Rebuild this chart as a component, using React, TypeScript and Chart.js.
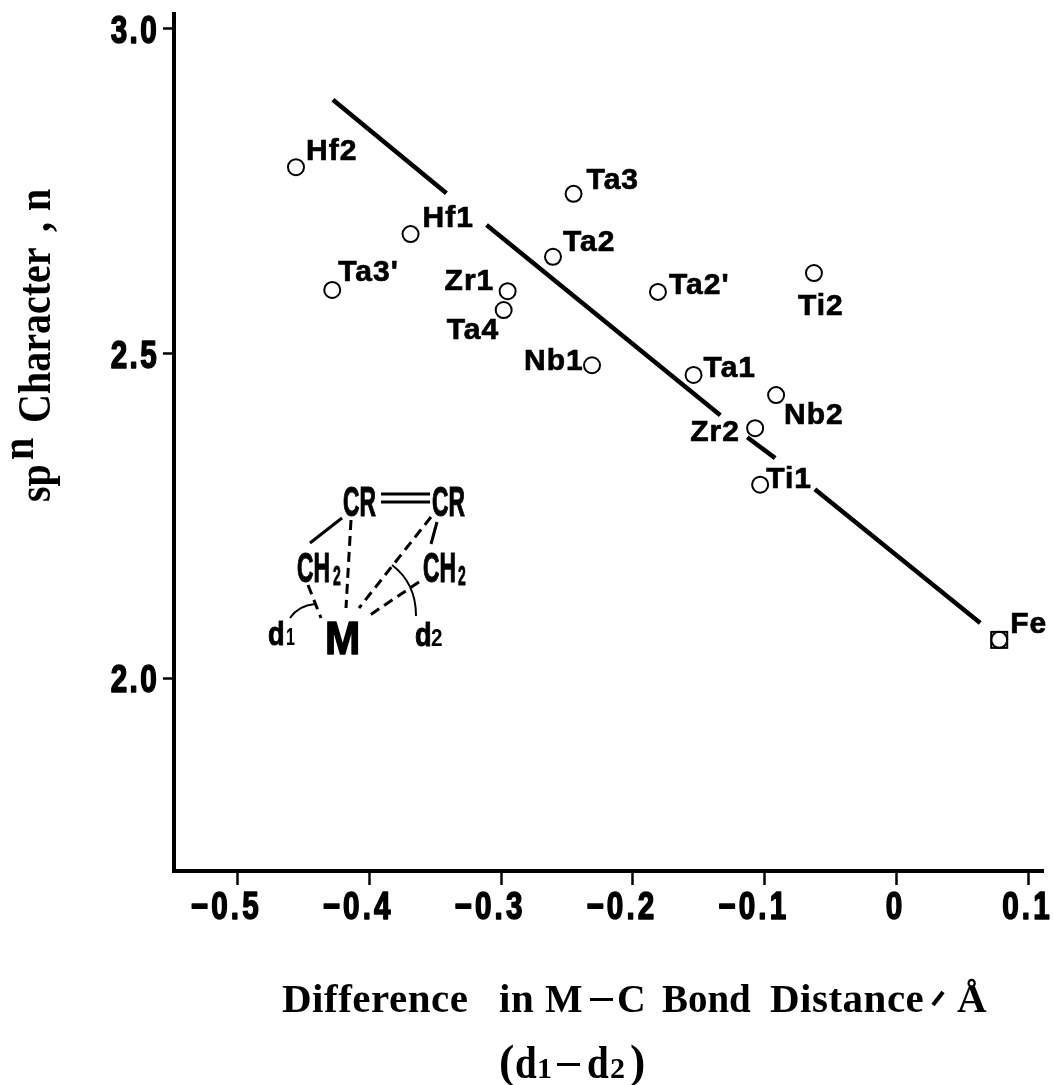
import React, { useEffect, useRef } from "react";
import { Chart, registerables } from "chart.js";

Chart.register(...registerables);

const pointNames = ["Hf2", "Ta3'", "Hf1", "Zr1", "Ta4", "Ta3", "Ta2", "Nb1", "Ta2'", "Ta1", "Zr2", "Nb2", "Ti2", "Ti1", "Fe"];
const pointX = [-0.4555, -0.428, -0.3686, -0.295, -0.298, -0.245, -0.2606, -0.231, -0.181, -0.154, -0.1073, -0.0914, -0.0627, -0.1035, 0.0778];
const pointY = [2.787, 2.598, 2.684, 2.596, 2.567, 2.746, 2.649, 2.482, 2.595, 2.467, 2.385, 2.436, 2.624, 2.298, 2.059];
const fitX = [-0.4275, -0.3414, null, -0.311, -0.1337, null, -0.1133, -0.0921, null, -0.062, 0.0634];
const fitY = [2.891, 2.747, null, 2.698, 2.405, null, 2.371, 2.339, null, 2.291, 2.085];
const xTicks = [-0.5, -0.4, -0.3, -0.2, -0.1, 0, 0.1];
const xTickLabels = ["−0.5", "−0.4", "−0.3", "−0.2", "−0.1", "0", "0.1"];
const yTicks = [2.0, 2.5, 3.0];
const yTickLabels = ["2.0", "2.5", "3.0"];

const labelOffsets: [number, number][] = [
  [10, -15], [6, -17], [12, -15], [-63, -9], [-57, 21], [13, -13], [10, -14], [-68, -4],
  [11, -6], [10, -6], [-65, 5], [8, 21], [-16, 34], [6, -5], [11, -15],
];

const SANS = "'Liberation Sans', sans-serif";
const SERIF = "'Liberation Serif', serif";

const annotate = {
  id: "annotate",
  afterDraw(chart: any) {
    const ctx = chart.ctx;
    const sx = chart.scales.x;
    const sy = chart.scales.y;
    ctx.save();
    ctx.fillStyle = "#000";
    ctx.strokeStyle = "#000";

    // draws text, squeezed or stretched about its anchor, optionally thickened
    const text = (s: string, x: number, y: number, font: string, kx = 1, ky = 1, align = "left", spacing = 0, heavy = 0) => {
      ctx.save();
      ctx.font = font;
      ctx.textAlign = align;
      ctx.textBaseline = "alphabetic";
      ctx.letterSpacing = `${spacing}px`;
      ctx.translate(x, y);
      ctx.scale(kx, ky);
      ctx.fillText(s, 0, 0);
      if (heavy > 0) {
        ctx.lineWidth = heavy;
        ctx.lineJoin = "round";
        ctx.strokeText(s, 0, 0);
      }
      ctx.restore();
    };

    // tick labels
    const tickFont = `bold 38px ${SANS}`;
    xTicks.forEach((v, i) => {
      text(xTickLabels[i], sx.getPixelForValue(v) - (v >= 0 ? 1 : 11), 919, tickFont, 0.78, 1, "center", 4, 1.6);
    });
    yTicks.forEach((v, i) => {
      text(yTickLabels[i], 159, sy.getPixelForValue(v) + 14, tickFont, 0.78, 1, "right", 3, 1.6);
    });

    // point labels
    ctx.save();
    ctx.font = `bold 30px ${SANS}`;
    ctx.textBaseline = "middle";
    ctx.letterSpacing = "1px";
    ctx.lineWidth = 0.7;
    pointNames.forEach((name, i) => {
      const [dx, dy] = labelOffsets[i];
      const px = sx.getPixelForValue(pointX[i]) + dx;
      const py = sy.getPixelForValue(pointY[i]) + dy;
      ctx.fillText(name, px, py);
      ctx.strokeText(name, px, py);
    });
    ctx.restore();

    // Fe square marker
    const fx = sx.getPixelForValue(pointX[14]);
    const fy = sy.getPixelForValue(pointY[14]);
    ctx.lineWidth = 2;
    ctx.strokeRect(fx - 8, fy - 8, 16, 16);

    // x axis title
    const xFont = `bold 41px ${SERIF}`;
    const xb = 1012;
    text("Difference", 282, xb, xFont, 1, 1, "left", 0.5);
    text("in", 499, xb, xFont, 1, 1, "left", 0.5);
    text("M", 545, xb, xFont, 0.97);
    ctx.fillRect(590, 998, 23, 3);
    text("C", 617, xb, xFont, 0.97);
    text("Bond", 662, xb, xFont, 0.95);
    text("Distance", 770, xb, xFont, 1, 1, "left", 0.5);
    ctx.lineWidth = 4;
    ctx.beginPath();
    ctx.moveTo(933, 1005);
    ctx.lineTo(943, 992);
    ctx.stroke();
    text("Å", 957, xb, xFont);
    const dFont = `bold 46px ${SERIF}`;
    const subFont = `bold 30px ${SERIF}`;
    const db = 1078;
    text("(", 499, db - 1, dFont);
    text("d", 515, db, dFont, 0.85);
    text("1", 537, db, subFont);
    ctx.fillRect(557, 1063, 23, 3);
    text("d", 587, db, dFont, 0.85);
    text("2", 610, db, subFont);
    text(")", 630, db - 1, dFont);

    // y axis title (rotated, reading upwards)
    const yFont = `bold 40px ${SERIF}`;
    const yRun = (s: string, along: number, baseX: number) => {
      ctx.save();
      ctx.font = yFont;
      ctx.textBaseline = "alphabetic";
      ctx.translate(baseX, along);
      ctx.rotate(-Math.PI / 2);
      ctx.scale(1, 1.14);
      ctx.fillText(s, 0, 0);
      ctx.restore();
    };
    yRun("sp", 502, 50);
    yRun("n", 460, 33);
    yRun("Character", 423, 50);
    yRun(",", 232, 50);
    yRun("n", 211, 50);

    // inset structure
    const cFont = `bold 43px ${SANS}`;
    text("CR", 343, 516, cFont, 0.53, 1, "left", 0, 1.2);
    text("CR", 432, 516, cFont, 0.53, 1, "left", 0, 1.2);
    text("CH", 297, 582, cFont, 0.53, 1, "left", 0, 1.2);
    text("CH", 423, 582, cFont, 0.53, 1, "left", 0, 1.2);
    const sFont = `bold 28px ${SANS}`;
    text("2", 333, 585, sFont, 0.5, 1, "left", 0, 0.8);
    text("2", 458, 585, sFont, 0.5, 1, "left", 0, 0.8);
    text("M", 325, 654, `bold 47px ${SANS}`, 0.9, 1, "left", 0, 1.5);
    const dsFont = `bold 34px ${SANS}`;
    text("d", 268, 645, dsFont, 0.8, 1, "left", 0, 1);
    text("d", 415, 646, dsFont, 0.8, 1, "left", 0, 1);
    const nsFont = `bold 23px ${SANS}`;
    text("1", 286, 645, nsFont, 0.7);
    text("2", 431, 646, nsFont, 0.9);

    ctx.lineWidth = 3;
    const seg = (a: number, b: number, c: number, d: number) => {
      ctx.beginPath();
      ctx.moveTo(a, b);
      ctx.lineTo(c, d);
      ctx.stroke();
    };
    seg(381, 494, 430, 494);
    seg(381, 502, 430, 502);
    seg(310, 543, 342, 518);
    seg(437, 522, 431, 544);
    ctx.setLineDash([10, 6]);
    seg(308, 585, 321, 618);
    seg(351, 520, 346, 608);
    seg(431, 517, 359, 608);
    seg(419, 582, 367, 617);
    ctx.setLineDash([]);
    ctx.lineWidth = 2;
    ctx.beginPath();
    ctx.moveTo(290, 618);
    ctx.bezierCurveTo(296, 609, 304, 605, 315, 604);
    ctx.stroke();
    ctx.beginPath();
    ctx.moveTo(392, 565);
    ctx.bezierCurveTo(408, 577, 416, 595, 416, 616);
    ctx.stroke();
    ctx.restore();
  },
};

export default function App() {
  const ref = useRef<HTMLCanvasElement>(null);
  useEffect(() => {
    const chart = new Chart(ref.current!, {
      type: "scatter",
      data: {
        datasets: [
          {
            label: "sp^n character",
            data: pointX.map((x, i) => ({ x, y: pointY[i] })),
            pointStyle: "circle",
            pointRadius: 8,
            pointBackgroundColor: "rgba(255,255,255,0)",
            pointBorderColor: "#000",
            pointBorderWidth: 2,
            showLine: false,
          },
          {
            label: "fit",
            data: fitX.map((x, i) => ({ x, y: fitY[i] })) as any,
            showLine: true,
            spanGaps: false,
            borderColor: "#000",
            borderWidth: 4.5,
            pointRadius: 0,
          },
        ],
      },
      plugins: [annotate],
      options: {
        animation: false,
        responsive: false,
        layout: { padding: { top: 14, right: 4, left: 0, bottom: 0 } },
        plugins: { legend: { display: false }, tooltip: { enabled: false } },
        scales: {
          x: {
            type: "linear",
            min: -0.548,
            max: 0.111,
            afterBuildTicks: (s: any) => { s.ticks = xTicks.map((value) => ({ value })); },
            afterFit: (s: any) => { s.height = 214; s.paddingLeft = 0; s.paddingRight = 0; },
            border: { display: true, color: "#000", width: 4 },
            grid: { drawOnChartArea: false, drawTicks: true, tickLength: 14, tickColor: "#000", tickWidth: 2.5 },
            ticks: { display: false },
            title: { display: false },
          },
          y: {
            type: "linear",
            min: 1.703,
            max: 3.023,
            afterBuildTicks: (s: any) => { s.ticks = yTicks.map((value) => ({ value })); },
            afterFit: (s: any) => { s.width = 174; s.paddingTop = 0; s.paddingBottom = 0; },
            border: { display: true, color: "#000", width: 4 },
            grid: { drawOnChartArea: false, drawTicks: true, tickLength: 11, tickColor: "#000", tickWidth: 2.5 },
            ticks: { display: false },
            title: { display: false },
          },
        },
      },
    } as any);
    return () => chart.destroy();
  }, []);
  return (
    <div style={{ position: "absolute", left: 0, top: 0, width: 1053, height: 1085, background: "#fff" }}>
      <canvas ref={ref} width={1053} height={1085} style={{ display: "block" }} />
    </div>
  );
}
